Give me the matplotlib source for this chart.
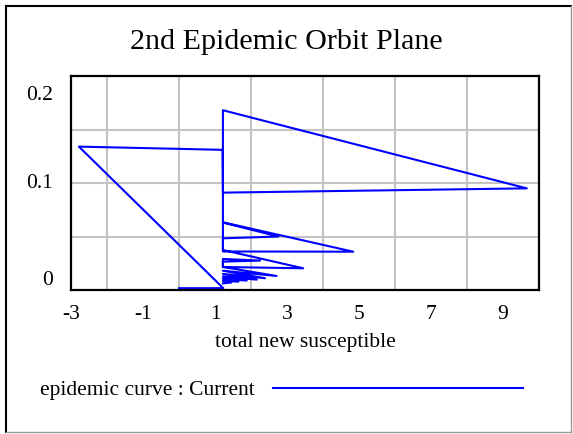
import matplotlib
matplotlib.use("Agg")
import matplotlib.pyplot as plt
from matplotlib.lines import Line2D

# orbit path (total new susceptible, epidemic curve)
new_susceptible = [
    0.0, 1.23, -2.78, 1.21, 1.22, 1.22, 9.66, 1.22,
    1.22, 4.84, 1.22, 1.22, 2.76, 1.22,
    1.22, 3.45, 1.22, 1.22, 2.25, 1.22,
    1.22, 2.71, 1.22, 2.39, 1.22, 2.16, 1.22,
    1.88, 1.22, 1.65, 1.22, 1.45, 1.22,
]
epidemic_curve = [
    0.0017, 0.0017, 0.134, 0.131, 0.091, 0.168, 0.095, 0.091,
    0.0633, 0.0358, 0.0360, 0.0630, 0.0500, 0.0483,
    0.0374, 0.0203, 0.0215, 0.0290, 0.0275, 0.0265,
    0.0215, 0.0131, 0.0180, 0.0110, 0.0150, 0.0097, 0.0125,
    0.0088, 0.0105, 0.0078, 0.0085, 0.0070, 0.0062,
]

x_ticks = [-3, -1, 1, 3, 5, 7, 9]
x_grid = list(range(-2, 10))
y_ticks = [0, 0.1, 0.2]
y_tick_labels = ["0", "0.1", "0.2"]
y_grid = [0.05, 0.1, 0.15]

plt.rcParams["font.family"] = ["Liberation Serif", "DejaVu Serif"]

W, H = 573, 434
fig = plt.figure(figsize=(W / 100, H / 100), dpi=100)

# panel border
fig.add_artist(Line2D([6 / W, 6 / W], [1 - 6 / H, 1 - 432 / H], color="black", lw=1.5))
fig.add_artist(Line2D([6 / W, 571 / W], [1 - 6 / H, 1 - 6 / H], color="black", lw=1.5))
fig.add_artist(Line2D([6 / W, 571 / W], [1 - 432 / H, 1 - 432 / H], color="#999999", lw=1.0))
fig.add_artist(Line2D([571 / W, 571 / W], [1 - 6 / H, 1 - 432 / H], color="#999999", lw=1.0))

ax = fig.add_axes([71 / W, 1 - 290 / H, 468 / W, 214 / H])
ax.plot(new_susceptible, epidemic_curve, color="#0000ff", lw=1.5, label="epidemic curve : Current")

ax.set_xlim(-3, 10)
ax.set_ylim(0, 0.2)
ax.set_xticks(x_ticks)
ax.set_xticklabels([str(v) for v in x_ticks], fontsize=15.5)
ax.set_xticks(x_grid, minor=True)
ax.set_yticks(y_grid, minor=True)
ax.set_yticks([])
ax.grid(True, which="minor", color="#c4c4c4", lw=1.5)
ax.tick_params(axis="x", which="both", length=0, pad=11)
ax.tick_params(axis="y", which="both", length=0)
ax.set_axisbelow(True)
for s in ax.spines.values():
    s.set_linewidth(1.6)

# y labels sit inside the range at the ends, like the reference
yax = ax.get_yaxis_transform()
for v, lab in zip(y_ticks, y_tick_labels):
    va = "center"
    if v == y_ticks[0]:
        va = "bottom"
    elif v == y_ticks[-1]:
        va = "top"
    yy = v
    if va == "top":
        yy = v - 0.009
    ax.text(-0.038, yy, lab, transform=yax, ha="right", va=va, fontsize=15.5)

ax.set_xlabel("total new susceptible", fontsize=15.5, labelpad=6)
fig.text(0.5, 1 - 42 / H, "2nd Epidemic Orbit Plane", ha="center", va="center", fontsize=21.6)

fig.legend(loc="center left", bbox_to_anchor=(40 / W, 1 - 390 / H), frameon=False,
           markerfirst=False, handlelength=11.6, handletextpad=0.85,
           borderpad=0, borderaxespad=0, fontsize=15.5)

fig.savefig("out.png", dpi=100)
